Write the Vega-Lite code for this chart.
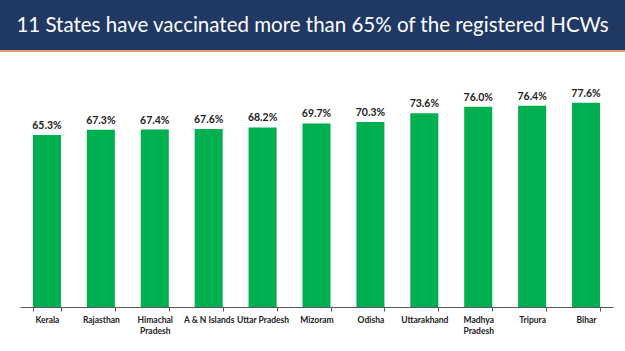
{
  "$schema": "https://vega.github.io/schema/vega-lite/v6.json",
  "padding": 0,
  "background": "white",
  "spacing": 18,
  "config": {"view": {"stroke": null}},
  "vconcat": [
    {
      "spacing": 0,
      "vconcat": [
        {
          "width": 625,
          "height": 50,
          "view": {"fill": "#1F3864", "stroke": null},
          "data": {"values": [{"title": "11 States have vaccinated more than 65% of the registered HCWs"}]},
          "mark": {"type": "text", "font": "Lato", "fontSize": 20.5, "color": "white", "baseline": "middle", "align": "center", "dy": 1},
          "encoding": {"text": {"field": "title"}}
        },
        {
          "width": 625,
          "height": 2,
          "view": {"fill": "#E8956A", "stroke": null},
          "data": {"values": [{"t": ""}]},
          "mark": {"type": "text", "fontSize": 0.1},
          "encoding": {"text": {"field": "t"}}
        }
      ]
    },
    {
      "width": 625,
      "height": 237,
      "data": {
        "values": [
          {"state": "Kerala", "pct": 65.3, "label": "65.3%"},
          {"state": "Rajasthan", "pct": 67.3, "label": "67.3%"},
          {"state": "Himachal Pradesh", "pct": 67.4, "label": "67.4%"},
          {"state": "A & N Islands", "pct": 67.6, "label": "67.6%"},
          {"state": "Uttar Pradesh", "pct": 68.2, "label": "68.2%"},
          {"state": "Mizoram", "pct": 69.7, "label": "69.7%"},
          {"state": "Odisha", "pct": 70.3, "label": "70.3%"},
          {"state": "Uttarakhand", "pct": 73.6, "label": "73.6%"},
          {"state": "Madhya Pradesh", "pct": 76.0, "label": "76.0%"},
          {"state": "Tripura", "pct": 76.4, "label": "76.4%"},
          {"state": "Bihar", "pct": 77.6, "label": "77.6%"}
        ]
      },
      "encoding": {
        "x": {
          "field": "state",
          "type": "nominal",
          "sort": null,
          "scale": {"range": [20, 613], "paddingInner": 0.48, "paddingOuter": 0.24},
          "axis": {
            "title": null,
            "labelAngle": 0,
            "tickBand": "extent",
            "domainColor": "#595959",
            "tickColor": "#595959",
            "tickSize": 4,
            "labelFont": "Lato",
            "labelFontWeight": "bold",
            "labelFontSize": 8.5,
            "labelColor": "#222222",
            "labelPadding": 4,
            "labelLineHeight": 11,
            "labelExpr": "datum.label == 'Himachal Pradesh' ? ['Himachal', 'Pradesh'] : datum.label == 'Madhya Pradesh' ? ['Madhya', 'Pradesh'] : datum.label"
          }
        },
        "y": {
          "field": "pct",
          "type": "quantitative",
          "scale": {"domain": [0, 90]},
          "axis": null
        }
      },
      "layer": [
        {"mark": {"type": "bar", "color": "#00B050"}},
        {
          "mark": {"type": "text", "dy": -6, "baseline": "alphabetic", "font": "Lato", "fontWeight": "bold", "fontSize": 10.5, "color": "#222222"},
          "encoding": {"text": {"field": "label"}}
        }
      ]
    }
  ]
}
